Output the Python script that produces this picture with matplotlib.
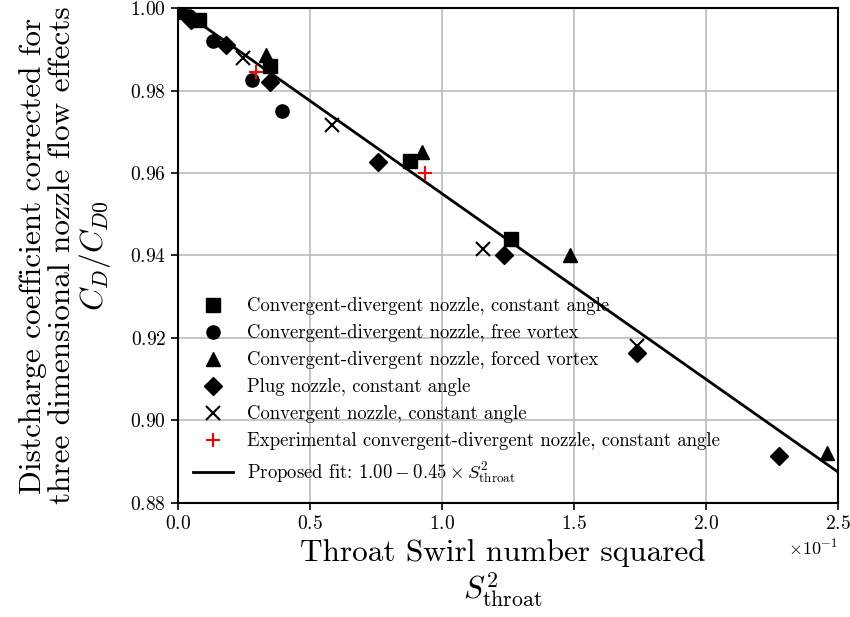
import numpy as np
import matplotlib
matplotlib.use('Agg')
import matplotlib.pyplot as plt

plt.rcParams['font.family'] = 'serif'
plt.rcParams['font.serif'] = ['cmr10']
plt.rcParams['mathtext.fontset'] = 'cm'
plt.rcParams['axes.formatter.use_mathtext'] = True

#%% Data (S^2 in real units, CD/CD0)

cd_const_x = [0.0, 0.0080, 0.0348, 0.0879, 0.1261]
cd_const_y = [1.000, 0.997, 0.986, 0.963, 0.944]

cd_free_x = [0.0, 0.0040, 0.0133, 0.0280, 0.0394]
cd_free_y = [1.000, 0.998, 0.992, 0.9825, 0.975]

cd_forced_x = [0.0, 0.0020, 0.0333, 0.0924, 0.1485, 0.2460]
cd_forced_y = [1.000, 0.999, 0.9885, 0.965, 0.940, 0.892]

plug_x = [0.0, 0.0050, 0.0180, 0.0348, 0.0758, 0.1235, 0.1739, 0.2277]
plug_y = [1.000, 0.997, 0.991, 0.982, 0.9627, 0.940, 0.9164, 0.8914]

conv_x = [0.0, 0.0020, 0.0246, 0.0583, 0.1155, 0.1739]
conv_y = [1.000, 0.999, 0.988, 0.9716, 0.9416, 0.918]

exp_x = [0.0295, 0.0936]
exp_y = [0.9845, 0.960]

fit_a = 1.00
fit_b = 0.45

#%% Plotting

fig = plt.figure('Discharge', figsize=(8.5, 6.17), dpi=100)
ax = fig.add_axes([0.2094, 0.1848, 0.7765, 0.8022])

ms = 9.5
ax.plot(cd_const_x, cd_const_y, 's', color='black', ms=ms, ls='none', zorder=3,
        label='Convergent-divergent nozzle, constant angle')
ax.plot(cd_free_x, cd_free_y, 'o', color='black', ms=ms, ls='none', zorder=3,
        label='Convergent-divergent nozzle, free vortex')
ax.plot(cd_forced_x, cd_forced_y, '^', color='black', ms=ms, ls='none', zorder=3,
        label='Convergent-divergent nozzle, forced vortex')
ax.plot(plug_x, plug_y, 'D', color='black', ms=ms, ls='none', zorder=3,
        label='Plug nozzle, constant angle')
ax.plot(conv_x, conv_y, 'x', color='black', ms=ms, mew=1.5, ls='none', zorder=3,
        label='Convergent nozzle, constant angle')
ax.plot(exp_x, exp_y, '+', color='red', ms=ms, mew=1.5, ls='none', zorder=3,
        label='Experimental convergent-divergent nozzle, constant angle')

s2 = np.linspace(0, 0.25, 50)
ax.plot(s2, fit_a - fit_b*s2, color='black', lw=2, zorder=2,
        label=r'Proposed fit: $1.00-0.45\times S^2_{\mathrm{throat}}$')

ax.set_xlim(0, 0.25)
ax.set_ylim(0.88, 1.00)
ax.set_yticks([0.88, 0.90, 0.92, 0.94, 0.96, 0.98, 1.00])
ax.ticklabel_format(axis='x', style='sci', scilimits=(0, 0))
ax.grid(True, color='#bbbbbb', lw=1.2)
ax.set_axisbelow(True)
ax.tick_params(labelsize=14, width=1.2, length=5)
ax.xaxis.get_offset_text().set_fontsize(13)
for sp in ax.spines.values():
    sp.set_linewidth(1.5)

ax.set_ylabel('Distcharge coefficient corrected for\nthree dimensional nozzle flow effects\n$C_D/C_{D0}$',
              fontsize=22.5, linespacing=1.05)
ax.yaxis.set_label_coords(-0.098, 0.5)
ax.set_xlabel('Throat Swirl number squared\n$S^2_{\\mathrm{throat}}$', fontsize=22.5, linespacing=1.15)
ax.xaxis.set_label_coords(0.492, -0.072)

ax.legend(loc='lower left', bbox_to_anchor=(0.023, 0.036), frameon=False, fontsize=13.5,
          borderaxespad=0, borderpad=0, handlelength=2.1, handletextpad=0.75, labelspacing=0.48)

plt.savefig('out.png', dpi=100)
